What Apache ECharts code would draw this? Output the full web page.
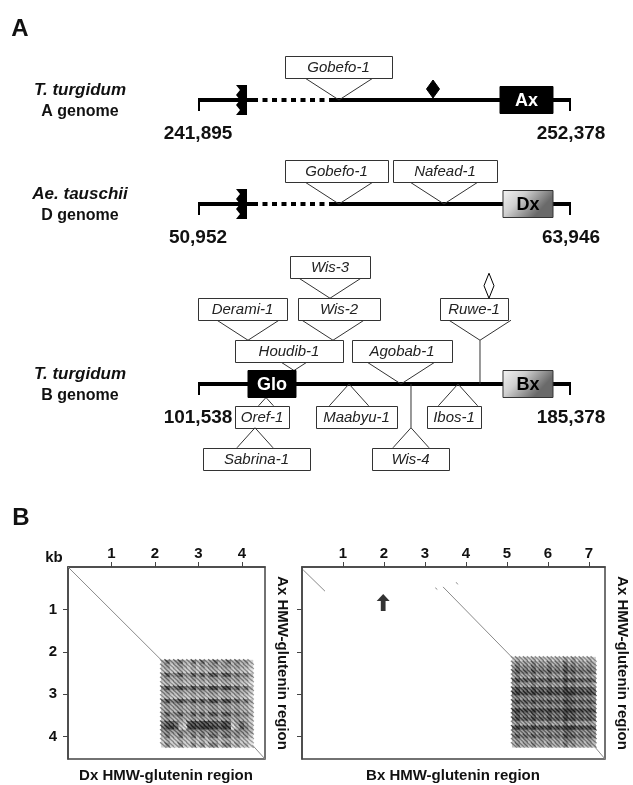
<!DOCTYPE html>
<html><head><meta charset="utf-8">
<script src="https://cdn.jsdelivr.net/npm/echarts@6/dist/echarts.min.js"></script>
<style>html,body{margin:0;padding:0;background:#fff}#c{width:633px;height:785px}</style>
</head><body><div id="c"></div>
<script>
// ================= DATA =================
// Panel A: genomic tracks (coordinates in bp)
const trackLabels = [['T. turgidum', 'A genome'], ['Ae. tauschii', 'D genome'], ['T. turgidum', 'B genome']];
const trackRanges = [[241895, 252378], [50952, 63946], [101538, 185378]];
const trackBreaks = [[243132], [52485], []];
const trackGaps = [[[243441, 245577]], [[52868, 55516]], []];
const genesA = [{name: 'Ax', from: 250383, to: 251872, kind: 'solid'}];
const genesD = [{name: 'Dx', from: 61577, to: 63319, kind: 'shaded'}];
const genesB = [{name: 'Glo', from: 112777, to: 123565, kind: 'solid'}, {name: 'Bx', from: 170093, to: 181331, kind: 'shaded'}];
const tesA = [{name: 'Gobefo-1', from: 244340, to: 247347, row: 1, site: 245858, parent: 'line'}];
const tesD = [
  {name: 'Gobefo-1', from: 53983, to: 57571, row: 1, site: 55864, parent: 'line'},
  {name: 'Nafead-1', from: 57745, to: 61368, row: 1, site: 59522, parent: 'line'}
];
const tesB = [
  {name: 'Houdib-1', from: 109854, to: 134130, row: 1, site: 123116, parent: 'Glo'},
  {name: 'Agobab-1', from: 136153, to: 158630, row: 1, site: 147166, parent: 'line'},
  {name: 'Derami-1', from: 101538, to: 121543, row: 2, site: 112777, parent: 'Houdib-1'},
  {name: 'Wis-2', from: 124015, to: 142446, row: 2, site: 131882, parent: 'Houdib-1'},
  {name: 'Wis-3', from: 122217, to: 140198, row: 3, site: 131208, parent: 'Wis-2'},
  {name: 'Ruwe-1', from: 155932, to: 171217, row: 2, site: 164923, parent: 'line'},
  {name: 'Oref-1', from: 109854, to: 121992, row: -1, site: 116822, parent: 'Glo'},
  {name: 'Sabrina-1', from: 102662, to: 126712, row: -2, site: 114350, parent: 'Oref-1'},
  {name: 'Maabyu-1', from: 128061, to: 146267, row: -1, site: 135478, parent: 'line'},
  {name: 'Ibos-1', from: 153010, to: 165148, row: -1, site: 159978, parent: 'line'},
  {name: 'Wis-4', from: 140648, to: 157955, row: -2, site: 149414, parent: 'line'}
];
const markersA = [{at: 248500, kind: 'solid', parent: 'line'}];
const markersD = [];
const markersB = [{at: 166946, kind: 'hollow', parent: 'Ruwe-1'}];

// Panel B: dot plots (kb)
const dotLeftExtent = [4.53, 4.53];
const dotRightExtent = [7.39, 4.53];
const dotLeftXTicks = [1, 2, 3, 4];
const dotRightXTicks = [1, 2, 3, 4, 5, 6, 7];
const dotYTicks = [1, 2, 3, 4];
const leftDiagonals = [[[0, 0], [2.14, 2.19]], [[4.24, 4.2], [4.53, 4.53]]];
const rightDiagonals = [[[0.03, 0.07], [0.56, 0.57]], [[3.44, 0.47], [5.14, 2.15]], [[3.25, 0.49], [3.3, 0.53]], [[3.76, 0.36], [3.8, 0.41]], [[7.12, 4.22], [7.39, 4.53]]];
const arrowAt = [[1.98, 0.84]];
const blockLeftSpan = {x: [2.14, 4.25], y: [2.19, 4.25]};
const blockLeftRows = [
  "363463363634634635342",
  "342343242434434434332",
  "232232232323323323221",
  "474574474747747746453",
  "343343343434434434332",
  "232332232323323323221",
  "585686585858858857463",
  "343343343434434434332",
  "232232232323323323221",
  "585686585858858857463",
  "343443343434434434332",
  "343343343434434434332",
  "474574474747747746453",
  "343343343434434434332",
  "577632787887768724642",
  "689721898999879813753",
  "454454454545545545443",
  "363363363636636635342",
  "232232232323323323221",
  "252252252525525524231"
];
const blockRightSpan = {x: [5.12, 7.16], y: [2.12, 4.25]};
const blockRightRows = [
  "232323232323242423232",
  "353435343534363534343",
  "464546454645475645454",
  "575657565756586756565",
  "353435343534363534343",
  "686768676867697867676",
  "353435343534363534343",
  "686768676867697867676",
  "797879787978799978787",
  "454545454545466545454",
  "686768676867697867676",
  "454545454545466545454",
  "797879787978799978787",
  "575657565756586756565",
  "686768676867697867676",
  "353435343534363534343",
  "797879787978799978787",
  "454545454545466545454",
  "575657565756586756565",
  "343434343434355434343",
  "353435343534363534343"
];

// ================= LAYOUT / STYLE =================
const FONT = '"Liberation Sans", Arial, Helvetica, sans-serif';
const BOX_H = 22, GENE_H = 27, ROW_SHIFT = 0.22, K_UP = 1.55, K_DOWN = 0.9;
const trackGrids = [
  {left: 198, width: 373, top: 37, height: 84, ymin: -0.5, ymax: 1.5},
  {left: 198, width: 373, top: 141, height: 84, ymin: -0.5, ymax: 1.5},
  {left: 198, width: 373, top: 237, height: 168, ymin: -0.5, ymax: 3.5}
];
const trackLineY = [100, 204, 384];
const genesByTrack = [genesA, genesD, genesB];
const tesByTrack = [tesA, tesD, tesB];
const markersByTrack = [markersA, markersD, markersB];
const fmt = v => String(v).replace(/\B(?=(\d{3})+(?!\d))/g, ',');

const chart = echarts.init(document.getElementById('c'), null, {renderer: 'canvas'});

const grids = [], xAxes = [], yAxes = [], series = [];

trackGrids.forEach((g, t) => {
  grids.push({left: g.left, top: g.top, width: g.width, height: g.height, show: false});
  xAxes.push({
    gridIndex: t, type: 'value', min: trackRanges[t][0], max: trackRanges[t][1], position: 'bottom',
    axisLine: {show: false}, axisTick: {show: false}, splitLine: {show: false},
    axisLabel: {customValues: trackRanges[t], formatter: fmt, margin: 3, fontSize: 19, fontWeight: 'bold', color: '#111', fontFamily: FONT}
  });
  yAxes.push({gridIndex: t, type: 'value', min: g.ymin, max: g.ymax, show: false});
});

function helpers(api) {
  const X = v => api.coord([v, 0])[0];
  const lineY = api.coord([0, 0])[1];
  const rowY = r => api.coord([0, r - Math.sign(r) * ROW_SHIFT])[1];
  return {X, lineY, rowY};
}

trackRanges.forEach((range, t) => {
  const segs = [];
  let cur = range[0];
  trackGaps[t].forEach(gp => { segs.push({from: cur, to: gp[0], dotted: false}); segs.push({from: gp[0], to: gp[1], dotted: true}); cur = gp[1]; });
  segs.push({from: cur, to: range[1], dotted: false});
  series.push({
    type: 'custom', xAxisIndex: t, yAxisIndex: t, silent: true, clip: false, z: 2,
    data: segs.map(s => [s.from, s.to, 0]), encode: {x: [0, 1], y: 2},
    renderItem: (params, api) => {
      const s = segs[params.dataIndex];
      const {X, lineY} = helpers(api);
      const a = X(s.from), b = X(s.to);
      const ch = [{type: 'line', shape: {x1: a, y1: lineY, x2: b, y2: lineY},
        style: {stroke: '#000', lineWidth: 4, lineDash: s.dotted ? [5, 4.5] : null, lineCap: 'butt'}}];
      if (s.from === range[0]) ch.push({type: 'line', shape: {x1: a + 1, y1: lineY - 2, x2: a + 1, y2: lineY + 11}, style: {stroke: '#000', lineWidth: 2}});
      if (s.to === range[1]) ch.push({type: 'line', shape: {x1: b - 1, y1: lineY - 2, x2: b - 1, y2: lineY + 11}, style: {stroke: '#000', lineWidth: 2}});
      return {type: 'group', children: ch};
    }
  });
  series.push({
    type: 'custom', xAxisIndex: t, yAxisIndex: t, silent: true, clip: false, z: 3,
    data: trackBreaks[t].map(b => [b, 0]), encode: {x: 0, y: 1},
    renderItem: (params, api) => {
      const {X, lineY} = helpers(api);
      const x = X(trackBreaks[t][params.dataIndex]);
      const pts = [[x + 5, lineY - 15], [x + 5, lineY + 15], [x - 6, lineY + 15], [x - 2, lineY + 10], [x - 6, lineY + 5],
        [x - 2, lineY], [x - 6, lineY - 5], [x - 2, lineY - 10], [x - 6, lineY - 15]];
      return {type: 'polygon', shape: {points: pts}, style: {fill: '#000'}};
    }
  });
  const tes = tesByTrack[t], genes = genesByTrack[t];
  series.push({
    type: 'custom', xAxisIndex: t, yAxisIndex: t, silent: true, clip: false, z: 4,
    data: tes.map(e => [e.from, e.to, e.row, e.site]), encode: {x: [0, 1, 3], y: 2},
    renderItem: (params, api) => {
      const te = tes[params.dataIndex];
      const {X, lineY, rowY} = helpers(api);
      const dir = Math.sign(te.row);
      const cy = rowY(te.row);
      const near = cy + dir * BOX_H / 2;
      let apexY, stalk = null;
      const pTe = tes.find(o => o.name === te.parent);
      const pGene = genes.find(g => g.name === te.parent);
      if (pTe) apexY = rowY(pTe.row) - dir * BOX_H / 2;
      else if (pGene) apexY = lineY - dir * GENE_H / 2;
      else if (Math.abs(te.row) > 1) { apexY = rowY(te.row - dir) - dir * BOX_H / 2; stalk = [apexY, lineY]; }
      else apexY = lineY;
      const sx = X(te.site);
      const hb = (dir > 0 ? K_UP : K_DOWN) * Math.abs(apexY - near);
      const x0 = X(te.from), x1 = X(te.to);
      const ch = [];
      if (stalk) ch.push({type: 'line', shape: {x1: sx, y1: stalk[0], x2: sx, y2: stalk[1]}, style: {stroke: '#333', lineWidth: 1}});
      ch.push({type: 'polyline', shape: {points: [[sx - hb, near], [sx, apexY], [sx + hb, near]]}, style: {stroke: '#333', fill: null, lineWidth: 1}});
      ch.push({type: 'rect', shape: {x: Math.round(x0) + 0.5, y: Math.round(cy - BOX_H / 2) + 0.5, width: Math.round(x1 - x0), height: BOX_H},
        style: {fill: '#fff', stroke: '#333', lineWidth: 1}});
      ch.push({type: 'text', style: {text: te.name, x: (x0 + x1) / 2, y: cy + 1, align: 'center', verticalAlign: 'middle',
        textAlign: 'center', textVerticalAlign: 'middle', font: 'italic 15px ' + FONT, fill: '#222'}});
      return {type: 'group', children: ch};
    }
  });
  series.push({
    type: 'custom', xAxisIndex: t, yAxisIndex: t, silent: true, clip: false, z: 5,
    data: genes.map(g => [g.from, g.to, 0]), encode: {x: [0, 1], y: 2},
    renderItem: (params, api) => {
      const g = genes[params.dataIndex];
      const {X, lineY} = helpers(api);
      const x0 = X(g.from), x1 = X(g.to);
      const solid = g.kind === 'solid';
      const fill = solid ? '#000' : {type: 'linear', x: 0, y: 0, x2: 0.6, y2: 1,
        colorStops: [{offset: 0, color: '#f4f4f4'}, {offset: 0.45, color: '#cfcfcf'}, {offset: 1, color: '#6a6a6a'}]};
      return {type: 'group', children: [
        {type: 'rect', shape: {x: x0, y: lineY - GENE_H / 2, width: x1 - x0, height: GENE_H}, style: {fill: fill, stroke: solid ? '#000' : '#333', lineWidth: 1}},
        {type: 'text', style: {text: g.name, x: (x0 + x1) / 2, y: lineY + 1, align: 'center', verticalAlign: 'middle',
          textAlign: 'center', textVerticalAlign: 'middle', font: 'bold 18px ' + FONT, fill: solid ? '#fff' : '#000'}}
      ]};
    }
  });
  const markers = markersByTrack[t];
  series.push({
    type: 'custom', xAxisIndex: t, yAxisIndex: t, silent: true, clip: false, z: 6,
    data: markers.map(m => [m.at, 0]), encode: {x: 0, y: 1},
    renderItem: (params, api) => {
      const m = markers[params.dataIndex];
      const {X, lineY, rowY} = helpers(api);
      const sx = X(m.at);
      const pTe = tes.find(o => o.name === m.parent);
      const base = pTe ? rowY(pTe.row) - BOX_H / 2 : lineY - 2;
      const solid = m.kind === 'solid';
      const w = solid ? 13 : 10, h = solid ? 18 : 25;
      return {type: 'polygon', shape: {points: [[sx, base], [sx + w / 2, base - h / 2], [sx, base - h], [sx - w / 2, base - h / 2]]},
        style: {fill: solid ? '#000' : '#fff', stroke: '#000', lineWidth: 1}};
    }
  });
});

// ---------- Panel B ----------
const dotGrids = [
  {left: 68, top: 567, width: 197, height: 192, ext: dotLeftExtent, xt: dotLeftXTicks, ylab: true},
  {left: 302, top: 567, width: 303, height: 192, ext: dotRightExtent, xt: dotRightXTicks, ylab: false}
];
const axisCommon = {
  axisLine: {show: true, lineStyle: {color: '#444', width: 1.5}},
  splitLine: {show: false}
};
dotGrids.forEach((d, i) => {
  const gi = 3 + i;
  grids.push({left: d.left, top: d.top, width: d.width, height: d.height, show: true, borderColor: '#444', borderWidth: 1.5});
  xAxes.push(Object.assign({
    gridIndex: gi, type: 'value', position: 'top', min: 0, max: d.ext[0],
    axisTick: {show: true, inside: false, length: 5, customValues: d.xt, lineStyle: {color: '#444', width: 1}},
    axisLabel: {customValues: d.xt, margin: 6, fontSize: 15, fontWeight: 'bold', color: '#111', fontFamily: FONT}
  }, axisCommon));
  yAxes.push(Object.assign({
    gridIndex: gi, type: 'value', position: 'left', inverse: true, min: 0, max: d.ext[1],
    axisTick: {show: true, inside: false, length: 5, customValues: dotYTicks, lineStyle: {color: '#444', width: 1}},
    axisLabel: {show: d.ylab, customValues: dotYTicks, margin: 11, fontSize: 15, fontWeight: 'bold', color: '#111', fontFamily: FONT}
  }, axisCommon));
});

function blockSeries(gi, span, rows) {
  const data = [];
  rows.forEach((row, r) => { for (let c = 0; c < row.length; c++) data.push([c, r, +row[c]]); });
  return {
    type: 'custom', xAxisIndex: gi, yAxisIndex: gi, silent: true, clip: false, z: 2,
    data: data,
    renderItem: (params, api) => {
      const c = api.value(0), r = api.value(1), v = api.value(2);
      const n = rows[r].length, m = rows.length;
      const xa = span.x[0] + c * (span.x[1] - span.x[0]) / n, xb = span.x[0] + (c + 1) * (span.x[1] - span.x[0]) / n;
      const ya = span.y[0] + r * (span.y[1] - span.y[0]) / m, yb = span.y[0] + (r + 1) * (span.y[1] - span.y[0]) / m;
      const p0 = api.coord([xa, ya]), p1 = api.coord([xb, yb]);
      const g = Math.round(248 - v * 19), s = Math.max(15, g - 95);
      return {type: 'group', children: [
        {type: 'rect', shape: {x: p0[0], y: p0[1], width: p1[0] - p0[0] + 0.4, height: p1[1] - p0[1] + 0.4}, style: {fill: `rgb(${g},${g},${g})`}},
        {type: 'line', shape: {x1: p0[0] - 1, y1: p0[1] - 0.5, x2: p1[0] + 1, y2: p1[1] + 0.5}, style: {stroke: `rgb(${s},${s},${s})`, lineWidth: 1.3, opacity: 0.8}}
      ]};
    }
  };
}
series.push(blockSeries(3, blockLeftSpan, blockLeftRows));
series.push(blockSeries(4, blockRightSpan, blockRightRows));

[[3, leftDiagonals], [4, rightDiagonals]].forEach(([gi, segs]) => {
  segs.forEach(seg => series.push({
    type: 'line', xAxisIndex: gi, yAxisIndex: gi, data: seg, symbol: 'none', silent: true, z: 3,
    lineStyle: {color: '#8a8a8a', width: 1}
  }));
});
series.push({
  type: 'scatter', xAxisIndex: 4, yAxisIndex: 4, data: arrowAt, silent: true, z: 5,
  symbol: 'path://M6,0 L12,7 L8.2,7 L8.2,17 L3.8,17 L3.8,7 L0,7 Z', symbolSize: [13, 17], itemStyle: {color: '#000'}
});

const T = (text, x, y, font, extra) => Object.assign({type: 'text', x: x, y: y, silent: true,
  style: {text: text, font: font, fill: '#111', align: 'center', verticalAlign: 'middle', textAlign: 'center', textVerticalAlign: 'middle'}}, extra || {});

const graphic = [
  T('A', 20, 29, 'bold 24px ' + FONT),
  T('B', 21, 518, 'bold 24px ' + FONT),
  T('kb', 54, 558, 'bold 15px ' + FONT),
  T('Dx HMW-glutenin region', 166, 776, 'bold 15px ' + FONT),
  T('Bx HMW-glutenin region', 453, 776, 'bold 15px ' + FONT),
  T('Ax HMW-glutenin region', 282, 663, 'bold 15px ' + FONT, {rotation: -Math.PI / 2}),
  T('Ax HMW-glutenin region', 622, 663, 'bold 15px ' + FONT, {rotation: -Math.PI / 2})
];
trackLabels.forEach((lab, t) => {
  graphic.push(T(lab[0], 80, trackLineY[t] - 10, 'italic bold 17px ' + FONT));
  graphic.push(T(lab[1], 80, trackLineY[t] + 12, 'bold 16px ' + FONT));
});

chart.setOption({
  animation: false,
  backgroundColor: '#fff',
  textStyle: {fontFamily: FONT},
  grid: grids, xAxis: xAxes, yAxis: yAxes, series: series, graphic: graphic
});
</script></body></html>
